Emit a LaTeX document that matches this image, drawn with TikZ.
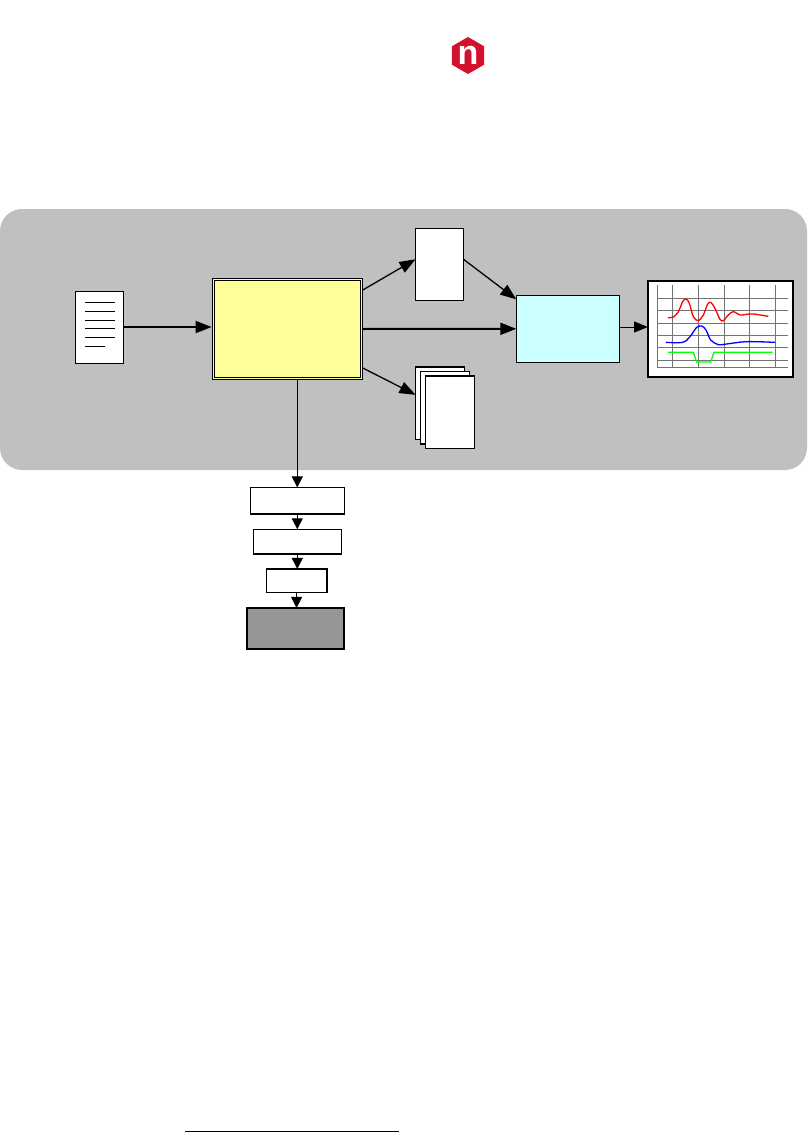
\documentclass[tikz,border=0pt]{standalone}
\usepackage{fontspec}
\usepackage{xcolor}
\usepackage{tikz}
\usetikzlibrary{arrows.meta, positioning, calc, shapes.geometric}
\setsansfont{Liberation Sans}
\definecolor{panelgray}{HTML}{C0C0C0}
\definecolor{editoryellow}{HTML}{FFFF99}
\definecolor{viewercyan}{HTML}{CCFFFF}
\definecolor{stackgray}{HTML}{969696}
\definecolor{logored}{HTML}{D2112D}

\begin{document}
\begin{tikzpicture}[x=1pt, y=-1pt, >={Triangle[length=16pt, width=12pt]}]
        \tikzset{
            panelnode/.style={fill=panelgray, rectangle, rounded corners=22pt, inner sep=0pt, outer sep=0pt, minimum width=807pt, minimum height=261pt},
            sheetnode/.style={draw=black, fill=white, rectangle, inner sep=0pt, outer sep=0pt, line width=1pt, minimum width=48pt, minimum height=72pt},
            pagenode/.style={sheetnode, line width=1.3pt, minimum width=49pt, minimum height=72.5pt},
            editornode/.style={draw=black, fill=editoryellow, double=editoryellow, double distance=1.4pt, line width=0.9pt, rectangle, inner sep=0pt, outer sep=1.6pt, minimum width=148pt, minimum height=99pt},
            viewernode/.style={draw=black, fill=viewercyan, rectangle, inner sep=0pt, outer sep=0pt, line width=1pt, minimum width=103pt, minimum height=67pt},
            chartnode/.style={draw=black, fill=white, rectangle, inner sep=0pt, outer sep=0pt, line width=1.7pt, minimum width=145pt, minimum height=96pt},
            stacknode/.style={draw=black, fill=white, rectangle, inner sep=0pt, outer sep=0pt, line width=1.2pt},
            smallarrow/.style={->, >={Triangle[length=11pt, width=11pt]}, line width=1pt},
            gridline/.style={draw=black!55, line width=0.8pt}
        }
        \useasboundingbox (0,0) rectangle (808,1132);

        \node [panelnode] (panel) at (403.5,339.5) {};

        \node [regular polygon, regular polygon sides=6, shape border rotate=30, fill=logored, inner sep=0pt, minimum size=37pt] (logo) at (468,55.5) {};
        \node [font=\sffamily\bfseries\fontsize{34}{34}\selectfont, text=white, inner sep=0pt] (logoletter) at (468,55) {n};

        \node [sheetnode] (netlist) at (99.5,327) {};
        \node [editornode] (editor) at (287.2,329) {};
        \node [sheetnode] (report) at (439.5,264.3) {};
        \node [viewernode] (viewer) at (567.8,328.8) {};
        \node [chartnode] (chart) at (720.5,329) {};

        \node [pagenode] (pageone) at (440,403.3) {};
        \node [pagenode, below right=-68pt and -44pt of pageone] (pagetwo) {};
        \node [pagenode, below right=-68pt and -44pt of pagetwo] (pagethree) {};

        \node [stacknode, minimum width=94pt, minimum height=26.5pt] (stackone) at (297.3,500.7) {};
        \node [stacknode, minimum width=88.4pt, minimum height=24.7pt, below=15.3pt of stackone] (stacktwo) {};
        \node [stacknode, line width=1.6pt, minimum width=60.3pt, minimum height=23.7pt, below=15pt of stacktwo, xshift=-0.7pt] (stackthree) {};
        \node [stacknode, fill=stackgray, line width=2pt, minimum width=96.5pt, minimum height=41pt, below=15.3pt of stackthree, xshift=-1.2pt] (stackfour) {};

        \foreach \liney/\lineend in {302.5/115, 311.5/115, 320.5/115, 328.5/115, 337.5/115, 346.5/105} {
            \draw [line width=1pt] (85,\liney) -- (\lineend,\liney);
        }

        \foreach \gridx in {657.3, 672.3, 698.3, 724.3, 749.3, 775.3} {
            \draw [gridline] (\gridx,285) -- (\gridx,367.3);
        }
        \foreach \gridy in {298.3, 310.7, 323.3, 335.3, 347.7, 360.3, 367.3} {
            \draw [gridline] (657.3,\gridy) -- (788.3,\gridy);
        }
        \begin{scope}[shift={(640,270)}, x=0.3333pt, y=-0.3333pt, line width=1.3pt]
            \draw [red] plot [smooth, tension=0.55] coordinates {(84,143) (100,141) (115,125) (128,95) (138,87) (148,100) (160,140) (175,152) (190,135) (203,102) (213,98) (225,115) (240,148) (250,152) (265,135) (280,125) (300,135) (320,133) (340,132) (385,139)};
            \draw [blue] plot [smooth, tension=0.55] coordinates {(78,217) (128,217) (150,200) (170,172) (185,168) (198,180) (212,210) (235,224) (260,222) (320,215) (405,217)};
            \draw [green] (84,247) -- (160,247) -- (170,276) -- (212,276) -- (222,247) -- (398,247);
        \end{scope}

        \draw [->, line width=2pt] (netlist.east) -- (netlist.east -| editor.west);
        \draw [->, line width=1.3pt] ([yshift=39pt]editor.east) -- ([yshift=5pt]report.west);
        \draw [->, line width=1.3pt] ([yshift=5pt]report.east) -- ([yshift=29.5pt]viewer.west);
        \draw [->, line width=2pt] (editor.east) -- (viewer.west);
        \draw [->, line width=1.3pt] ([yshift=-39pt]editor.east) -- ([yshift=8.5pt]pageone.west);
        \draw [->, line width=1pt, >={Triangle[length=14pt, width=11pt]}] ([yshift=1.8pt]viewer.east) -- ([yshift=2pt]chart.west);

        \draw [smallarrow] (editor.south -| stackone.north) -- (stackone.north);
        \draw [smallarrow] (stackone.south) -- (stackone.south |- stacktwo.north);
        \draw [smallarrow] (stacktwo.south) -- (stacktwo.south |- stackthree.north);
        \draw [smallarrow] (stackthree.south) -- (stackthree.south |- stackfour.north);

        \coordinate (ruleleft) at (185,1131.3);
        \coordinate (ruleright) at (399,1131.3);
        \draw [line width=1pt] (ruleleft) -- (ruleright);
\end{tikzpicture}
\end{document}
